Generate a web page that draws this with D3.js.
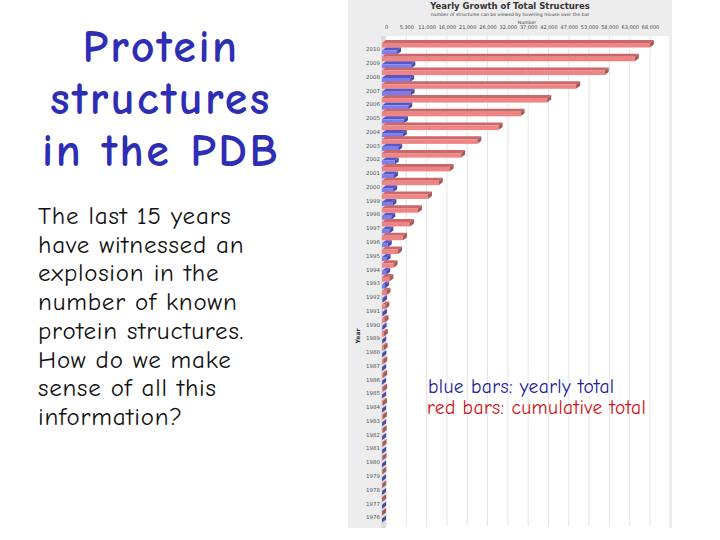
<!DOCTYPE html>
<html>
<head>
<meta charset="utf-8">
<script src="https://cdn.jsdelivr.net/npm/d3@7"></script>
<style>
  body { margin: 0; background: #fff; }
  svg { display: block; }
</style>
</head>
<body>
<svg id="slide" width="720" height="540"></svg>
<script>
// data
var years = [2010, 2009, 2008, 2007, 2006, 2005, 2004, 2003, 2002, 2001, 2000, 1999, 1998, 1997, 1996,
  1995, 1994, 1993, 1992, 1991, 1990, 1989, 1988, 1987, 1986, 1985, 1984, 1983, 1982, 1981, 1980,
  1979, 1978, 1977, 1976];
var cumulative = [69400, 65500, 57700, 50300, 42800, 35900, 30200, 24700, 20500, 17500, 14700, 11900,
  9300, 7250, 5450, 4150, 3000, 1900, 1150, 880, 640, 480, 420, 340, 310, 290, 260, 220, 180, 130, 95,
  77, 59, 36, 13];
var yearly = [3900, 7600, 7300, 7400, 6800, 5700, 5400, 4200, 3300, 3100, 2900, 2700, 2400, 1900, 1500,
  1200, 1100, 750, 280, 240, 160, 70, 80, 30, 20, 30, 40, 40, 50, 40, 20, 20, 20, 20, 13];
var tickValues = [0, 5261, 10523, 15784, 21046, 26307, 31569, 36830, 42092, 47353, 52615, 57876, 63138, 68399];
var tickLabels = ["0", "5,300", "11,000", "16,000", "21,000", "26,000", "32,000", "37,000", "42,000",
  "47,000", "53,000", "58,000", "63,000", "68,000"];
var bodyLines = ["The last 15 years", "have witnessed an", "explosion in the", "number of known",
  "protein structures.", "How do we make", "sense of all this", "information?"];
var titleLines = ["Protein", "structures", "in the PDB"];

var svg = d3.select('#slide');
var hand = '"Comic Sans MS", "Comic Neue", "DejaVu Sans", sans-serif';

// slide text on the left
svg.append('g').selectAll('text')
  .data(titleLines)
  .join('text')
    .attr('x', 161)
    .attr('y', function(d, i) { return 62 + i * 52; })
    .attr('text-anchor', 'middle')
    .style('font-family', hand)
    .style('font-size', '46px')
    .style('font-weight', 'bold')
    .style('letter-spacing', '2.5px')
    .style('fill', '#2e2eb4')
    .text(function(d) { return d; });

svg.append('g').selectAll('text')
  .data(bodyLines)
  .join('text')
    .attr('x', 38)
    .attr('y', function(d, i) { return 224 + i * 28.7; })
    .style('font-family', hand)
    .style('font-size', '25px')
    .style('letter-spacing', '0.8px')
    .style('fill', '#111')
    .text(function(d) { return d; });

// chart panel
var panel = svg.append('g');
panel.append('rect').attr('x', 348).attr('y', 0).attr('width', 324).attr('height', 528).attr('fill', '#ededed');
panel.append('rect').attr('x', 381).attr('y', 36).attr('width', 288).attr('height', 492).attr('fill', '#fff');
panel.append('rect').attr('x', 381).attr('y', 36).attr('width', 5).attr('height', 492).attr('fill', '#dcdcdc');

var x = d3.scaleLinear().domain([0, 68399]).range([382, 646]);
var y = d3.scalePoint().domain(years).range([49, 517]);
var dx = 4, dy = 3;

// grid on the back wall
panel.append('g').selectAll('line')
  .data(tickValues)
  .join('line')
    .attr('x1', function(d) { return x(d) + dx; })
    .attr('x2', function(d) { return x(d) + dx; })
    .attr('y1', 36)
    .attr('y2', 526)
    .attr('stroke', '#e4e4e4')
    .attr('stroke-width', 1);

// top axis, labels only
var xAxis = d3.axisTop(x.copy().range([386, 650]))
  .tickValues(tickValues)
  .tickSize(0)
  .tickFormat(function(d, i) { return tickLabels[i]; });
var ax = panel.append('g').attr('transform', 'translate(0,32)').call(xAxis);
ax.select('.domain').remove();
ax.selectAll('text').style('font-family', 'DejaVu Sans, sans-serif').style('font-size', '5px').style('fill', '#444');

panel.append('text').attr('x', 510).attr('y', 9).attr('text-anchor', 'middle')
  .style('font-family', 'DejaVu Sans, sans-serif').style('font-size', '8.5px').style('font-weight', 'bold')
  .style('fill', '#333').text('Yearly Growth of Total Structures');
panel.append('text').attr('x', 510).attr('y', 16).attr('text-anchor', 'middle')
  .style('font-family', 'DejaVu Sans, sans-serif').style('font-size', '4.6px')
  .style('fill', '#444').text('number of structures can be viewed by hovering mouse over the bar');
panel.append('text').attr('x', 527).attr('y', 24).attr('text-anchor', 'middle')
  .style('font-family', 'DejaVu Sans, sans-serif').style('font-size', '4.6px')
  .style('fill', '#444').text('Number');
panel.append('text').attr('transform', 'translate(360,336) rotate(-90)').attr('text-anchor', 'middle')
  .style('font-family', 'DejaVu Sans, sans-serif').style('font-size', '6px').style('font-weight', 'bold')
  .style('fill', '#333').text('Year');

// year labels
var yAxis = d3.axisLeft(y).tickSize(0).tickPadding(0);
var ay = panel.append('g').attr('transform', 'translate(380,0)').call(yAxis);
ay.select('.domain').remove();
ay.selectAll('text').style('font-family', 'DejaVu Sans, sans-serif').style('font-size', '5.5px').style('fill', '#555');

// 3D bars
function bar3d(g, top, h, val, face, lid, side) {
  var x0 = x(0), x1 = x(val);
  g.append('polygon')
    .attr('points', [[x0, top], [x0 + dx, top - dy], [x1 + dx, top - dy], [x1, top]].join(' '))
    .attr('fill', lid);
  g.append('rect').attr('x', x0).attr('y', top).attr('width', Math.max(0, x1 - x0)).attr('height', h).attr('fill', face);
  g.append('polygon')
    .attr('points', [[x1, top], [x1 + dx, top - dy], [x1 + dx, top - dy + h], [x1, top + h]].join(' '))
    .attr('fill', side);
}

var rows = panel.append('g').selectAll('g')
  .data(years)
  .join('g');
rows.each(function(yr, i) {
  var g = d3.select(this);
  var yc = y(yr);
  bar3d(g, yc - 6, 4.5, cumulative[i], '#f08484', '#c86868', '#a85a5a');
  bar3d(g, yc + 1.5, 4, yearly[i], '#7c7cf0', '#5656c4', '#4a4aa8');
});

// legend text
svg.append('text').attr('x', 428).attr('y', 393)
  .style('font-family', hand).style('font-size', '19.5px').style('letter-spacing', '0.4px')
  .style('fill', '#1a1a9c')
  .text('blue bars: yearly total');
svg.append('text').attr('x', 427).attr('y', 414)
  .style('font-family', hand).style('font-size', '19.5px').style('letter-spacing', '0.4px')
  .style('fill', '#cc1515')
  .text('red bars: cumulative total');
</script>
</body>
</html>
